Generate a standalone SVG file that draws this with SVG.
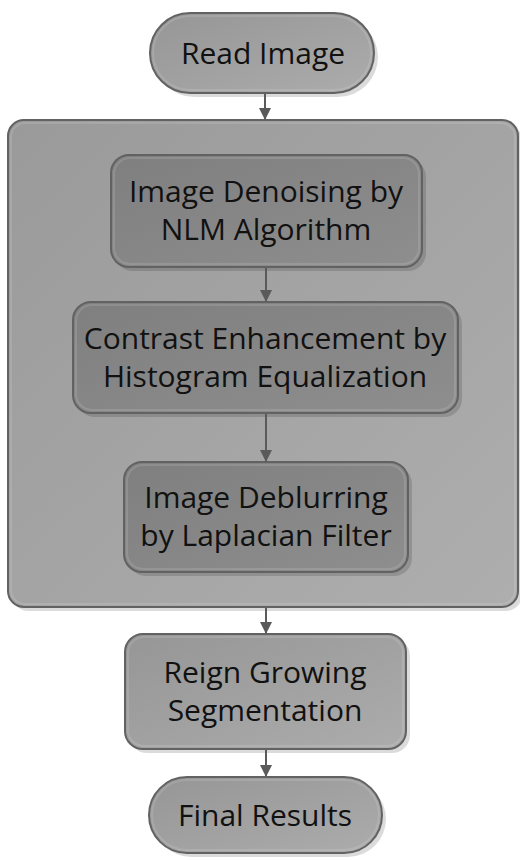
<svg xmlns="http://www.w3.org/2000/svg" width="520" height="860" viewBox="0 0 520 860">
  <defs>
    <linearGradient id="gLight" x1="0" y1="0" x2="1" y2="1">
      <stop offset="0" stop-color="#969696"/>
      <stop offset="1" stop-color="#acacac"/>
    </linearGradient>
    <linearGradient id="gBox" x1="0" y1="0" x2="1" y2="1">
      <stop offset="0" stop-color="#9a9a9a"/>
      <stop offset="1" stop-color="#aeaeae"/>
    </linearGradient>
    <linearGradient id="gDark" x1="0" y1="0" x2="1" y2="1">
      <stop offset="0" stop-color="#7f7f7f"/>
      <stop offset="1" stop-color="#8e8e8e"/>
    </linearGradient>
    <marker id="arrow" viewBox="0 0 12 12" refX="11" refY="6" markerWidth="12" markerHeight="12" markerUnits="userSpaceOnUse" orient="auto">
      <path d="M0,0 L12,6 L0,12 z" fill="#5a5a5a"/>
    </marker>
  </defs>
  <style>
    .shadow { fill: #000; opacity: 0.14; }
    .outline { stroke: #626262; stroke-width: 2; }
    .hi { fill: none; stroke: #ffffff; stroke-opacity: 0.12; stroke-width: 2; }
    .label { font-family: "Open Sans", "Liberation Sans", sans-serif; font-size: 30px; fill: #111; text-anchor: middle; }
    .conn { stroke: #5a5a5a; stroke-width: 2; fill: none; marker-end: url(#arrow); }
  </style>

  <rect width="520" height="860" fill="#ffffff"/>

  <!-- processing container -->
  <g id="preprocessing">
    <rect class="shadow" x="12" y="124" width="510" height="487" rx="16"/>
    <rect class="outline" x="8" y="120" width="510" height="487" rx="16" fill="url(#gBox)"/>
    <rect class="hi" x="11" y="123" width="504" height="481" rx="14"/>
  </g>

  <g id="read-image">
    <rect class="shadow" x="154" y="17" width="224" height="80" rx="40"/>
    <rect class="outline" x="150" y="13" width="224" height="80" rx="40" fill="url(#gLight)"/>
    <rect class="hi" x="153" y="16" width="218" height="74" rx="37"/>
    <text class="label" x="263" y="64">Read Image</text>
  </g>

  <g id="denoising">
    <rect class="shadow" x="115" y="159" width="311" height="112" rx="18"/>
    <rect class="outline" x="111" y="155" width="311" height="112" rx="18" fill="url(#gDark)"/>
    <rect class="hi" x="114" y="158" width="305" height="106" rx="16"/>
    <text class="label" x="266" y="202">Image Denoising by</text>
    <text class="label" x="266" y="240">NLM Algorithm</text>
  </g>

  <g id="contrast">
    <rect class="shadow" x="77" y="306" width="385" height="111" rx="18"/>
    <rect class="outline" x="73" y="302" width="385" height="111" rx="18" fill="url(#gDark)"/>
    <rect class="hi" x="76" y="305" width="379" height="105" rx="16"/>
    <text class="label" x="265" y="349">Contrast Enhancement by</text>
    <text class="label" x="265" y="387">Histogram Equalization</text>
  </g>

  <g id="deblurring">
    <rect class="shadow" x="128" y="466" width="284" height="110" rx="18"/>
    <rect class="outline" x="124" y="462" width="284" height="110" rx="18" fill="url(#gDark)"/>
    <rect class="hi" x="127" y="465" width="278" height="104" rx="16"/>
    <text class="label" x="266" y="508">Image Deblurring</text>
    <text class="label" x="266" y="546">by Laplacian Filter</text>
  </g>

  <g id="segmentation">
    <rect class="shadow" x="129" y="638" width="281" height="115" rx="18"/>
    <rect class="outline" x="125" y="634" width="281" height="115" rx="18" fill="url(#gLight)"/>
    <rect class="hi" x="128" y="637" width="275" height="109" rx="16"/>
    <text class="label" x="265" y="683">Reign Growing</text>
    <text class="label" x="265" y="721">Segmentation</text>
  </g>

  <g id="final-results">
    <rect class="shadow" x="153" y="781" width="233" height="76" rx="38"/>
    <rect class="outline" x="149" y="777" width="233" height="76" rx="38" fill="url(#gLight)"/>
    <rect class="hi" x="152" y="780" width="227" height="70" rx="35"/>
    <text class="label" x="265" y="826">Final Results</text>
  </g>

  <g id="connectors">
    <line class="conn" x1="265" y1="94" x2="265" y2="119"/>
    <line class="conn" x1="266" y1="268" x2="266" y2="301"/>
    <line class="conn" x1="266" y1="414" x2="266" y2="461"/>
    <line class="conn" x1="266" y1="608" x2="266" y2="633"/>
    <line class="conn" x1="266" y1="750" x2="266" y2="776"/>
  </g>
</svg>
